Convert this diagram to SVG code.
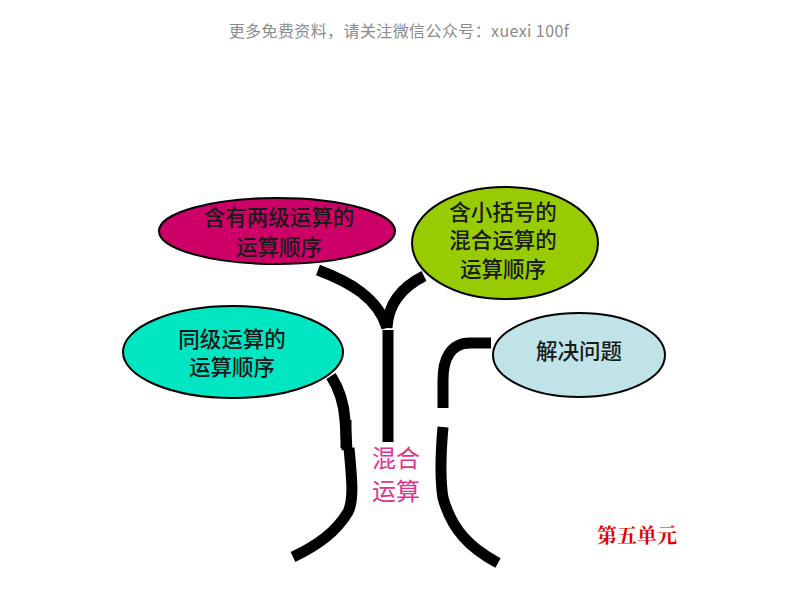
<svg xmlns="http://www.w3.org/2000/svg" width="800" height="600" viewBox="0 0 800 600">
<style>
.node ellipse{stroke:#000;stroke-width:2}
.lbl{font-family:"Noto Sans CJK SC","Noto Sans",sans-serif;font-size:21.5px;font-weight:500;fill:#1a1a1a;text-anchor:middle}
.br{fill:none;stroke:#000;stroke-width:11;stroke-linecap:butt}
.ctr{font-family:"Noto Sans CJK SC",sans-serif;font-size:24px;fill:#e0358f;text-anchor:middle}
</style>
<rect width="800" height="600" fill="#fff"/>
<text x="399" y="37" font-family="'Noto Sans CJK SC','Noto Sans',sans-serif" font-size="16" letter-spacing="0.4" fill="#8a8a8a" text-anchor="middle">更多免费资料，请关注微信公众号：xuexi 100f</text>
<g id="connectors">
<path class="br" d="M318,270 C350,282 378,298 387,328"/>
<path class="br" d="M424,276 C400,288 388,305 387,328"/>
<path class="br" d="M388,330 L388,442"/>
<path class="br" d="M331,376 C340,390 344,405 345,420 L347,450"/>
<path class="br" d="M346,420 L346,448" stroke-width="13"/>
<path class="br" d="M349,448 C352,480 354,500 348,512 C336,532 318,545 293,557"/>
<path class="br" d="M491,343 L470,343 C450,343 443,360 443,380 L443,408"/>
<path class="br" d="M443,427 C441,450 440,480 443,498 C452,530 470,548 498,563"/>
</g>
<g id="n1" class="node">
<ellipse cx="277" cy="231" rx="118" ry="33" fill="#cc0066"/>
<text class="lbl" x="279" y="225">含有两级运算的</text>
<text class="lbl" x="279" y="255">运算顺序</text>
</g>
<g id="n2" class="node">
<ellipse cx="505" cy="243" rx="93" ry="56" fill="#99cc00"/>
<text class="lbl" x="503" y="220" font-size="22">含小括号的</text>
<text class="lbl" x="503" y="248" font-size="22">混合运算的</text>
<text class="lbl" x="503" y="277" font-size="22">运算顺序</text>
</g>
<g id="n3" class="node">
<ellipse cx="233" cy="352" rx="110" ry="46" fill="#00e6c3"/>
<text class="lbl" x="232" y="347">同级运算的</text>
<text class="lbl" x="232" y="375">运算顺序</text>
</g>
<g id="n4" class="node">
<ellipse cx="579" cy="355" rx="86" ry="42" fill="#bfe3e6"/>
<text class="lbl" x="579" y="359" font-size="19.5">解决问题</text>
</g>
<g id="center">
<text class="ctr" x="396" y="467">混合</text>
<text class="ctr" x="396" y="500">运算</text>
</g>
<text x="637" y="543" font-family="'Noto Serif CJK SC','Noto Sans CJK SC',serif" font-size="20" font-weight="bold" fill="#e00000" text-anchor="middle">第五单元</text>
</svg>
